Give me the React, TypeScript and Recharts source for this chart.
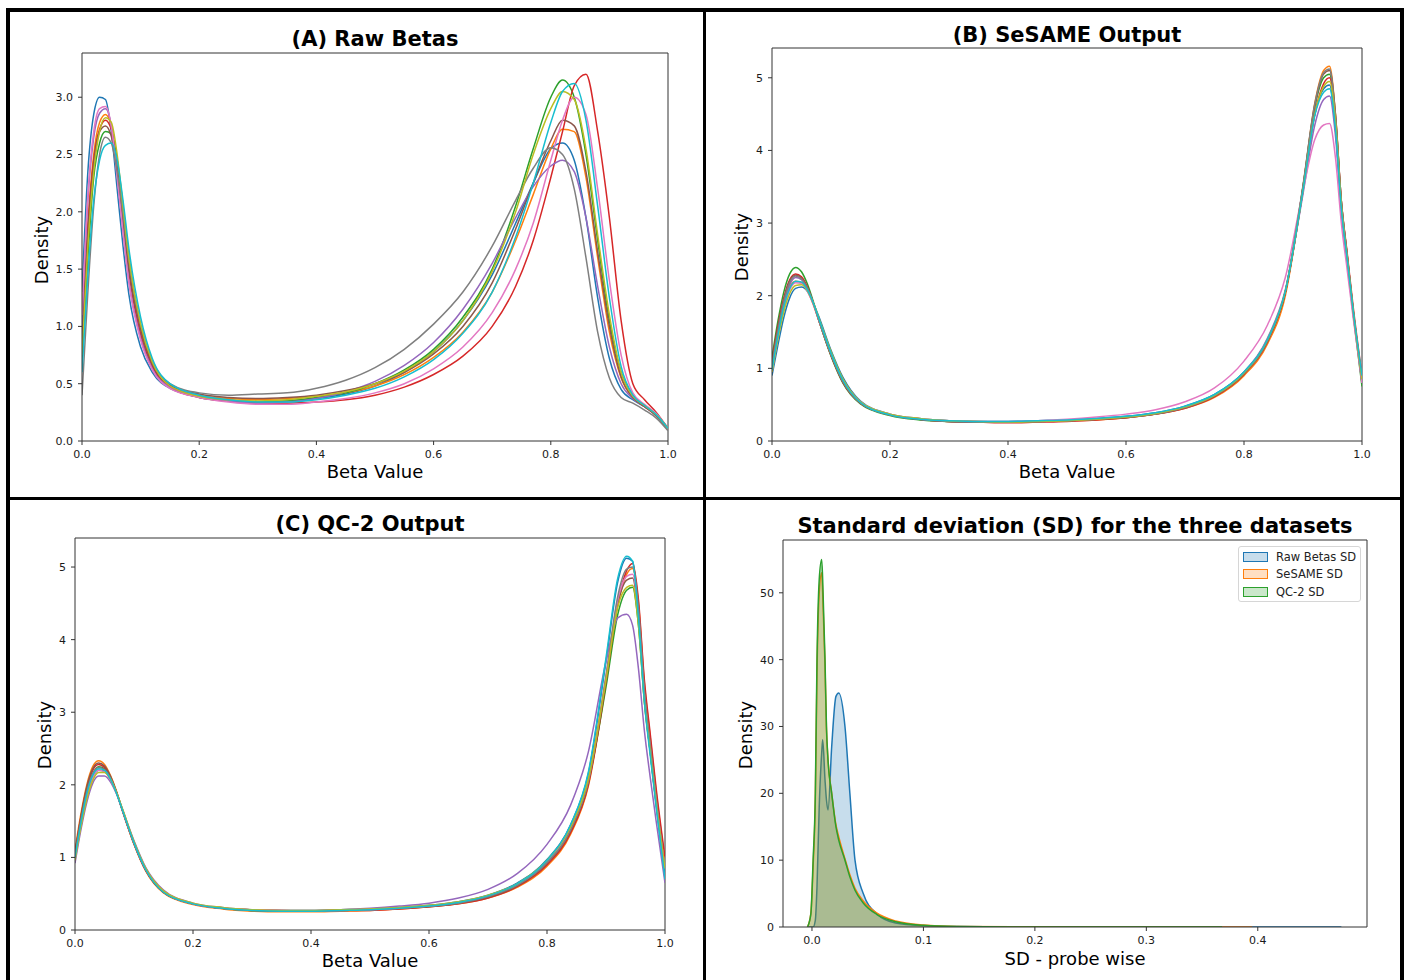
import React from 'react'
import { LineChart, Line, AreaChart, Area, XAxis, YAxis, ReferenceLine } from 'recharts'

// matplotlib tab10 cycle
const colors = ['#1f77b4', '#ff7f0e', '#2ca02c', '#d62728', '#9467bd', '#8c564b', '#e377c2', '#7f7f7f', '#bcbd22', '#17becf']

// (A) raw betas, density per sample
const gridA = [0, 0.01, 0.02, 0.03, 0.04, 0.05, 0.06, 0.07, 0.08, 0.1, 0.12, 0.15, 0.2, 0.25, 0.3, 0.35, 0.4, 0.45, 0.5, 0.55, 0.6, 0.65, 0.7, 0.74, 0.77, 0.8, 0.82, 0.84, 0.86, 0.88, 0.9, 0.92, 0.94, 0.96, 0.98, 1.0]
const rawBetas = [
  [1.3, 2.35, 2.85, 3.0, 2.98, 2.7, 2.2, 1.7, 1.28, 0.82, 0.6, 0.46, 0.39, 0.36, 0.34, 0.35, 0.37, 0.41, 0.48, 0.6, 0.78, 1.05, 1.45, 1.9, 2.25, 2.55, 2.6, 2.45, 1.95, 1.25, 0.72, 0.45, 0.36, 0.3, 0.22, 0.1],
  [0.9, 1.9, 2.5, 2.78, 2.85, 2.75, 2.4, 1.95, 1.5, 0.95, 0.66, 0.48, 0.4, 0.37, 0.36, 0.37, 0.39, 0.42, 0.48, 0.58, 0.73, 0.95, 1.3, 1.75, 2.15, 2.55, 2.72, 2.7, 2.3, 1.6, 0.95, 0.55, 0.38, 0.3, 0.22, 0.1],
  [0.7, 1.6, 2.3, 2.6, 2.7, 2.68, 2.45, 2.05, 1.6, 1.0, 0.68, 0.47, 0.38, 0.35, 0.34, 0.35, 0.38, 0.42, 0.5, 0.62, 0.8, 1.08, 1.5, 2.05, 2.55, 3.0, 3.15, 3.0, 2.5, 1.75, 1.05, 0.6, 0.4, 0.31, 0.23, 0.11],
  [0.9, 1.85, 2.45, 2.72, 2.8, 2.72, 2.38, 1.92, 1.48, 0.93, 0.65, 0.47, 0.38, 0.35, 0.33, 0.33, 0.34, 0.36, 0.4, 0.47, 0.58, 0.74, 1.0, 1.35, 1.75, 2.3, 2.7, 3.1, 3.2, 2.7, 1.95, 1.05, 0.5, 0.36, 0.25, 0.11],
  [1.0, 2.1, 2.65, 2.86, 2.9, 2.75, 2.32, 1.85, 1.4, 0.9, 0.63, 0.47, 0.39, 0.35, 0.33, 0.34, 0.37, 0.43, 0.52, 0.66, 0.86, 1.15, 1.55, 1.95, 2.22, 2.4, 2.45, 2.35, 1.95, 1.35, 0.82, 0.5, 0.37, 0.3, 0.22, 0.1],
  [0.8, 1.8, 2.42, 2.7, 2.75, 2.66, 2.35, 1.92, 1.5, 0.97, 0.67, 0.49, 0.41, 0.38, 0.37, 0.38, 0.4, 0.44, 0.5, 0.6, 0.76, 1.0, 1.38, 1.85, 2.25, 2.62, 2.8, 2.75, 2.35, 1.65, 1.0, 0.56, 0.38, 0.3, 0.22, 0.1],
  [1.1, 2.15, 2.7, 2.9, 2.92, 2.75, 2.3, 1.82, 1.38, 0.88, 0.62, 0.46, 0.38, 0.34, 0.32, 0.32, 0.34, 0.37, 0.42, 0.5, 0.63, 0.82, 1.12, 1.5, 1.9, 2.45, 2.8, 3.0, 2.85, 2.2, 1.4, 0.75, 0.42, 0.32, 0.24, 0.11],
  [0.4, 1.3, 2.05, 2.5, 2.65, 2.6, 2.35, 1.98, 1.58, 1.02, 0.7, 0.5, 0.42, 0.4, 0.41, 0.42, 0.46, 0.53, 0.64, 0.8, 1.02, 1.3, 1.7, 2.1, 2.38, 2.56, 2.5, 2.2, 1.6, 0.95, 0.55, 0.38, 0.33, 0.27, 0.2, 0.09],
  [0.75, 1.7, 2.35, 2.7, 2.82, 2.78, 2.5, 2.05, 1.6, 1.02, 0.69, 0.48, 0.39, 0.36, 0.35, 0.36, 0.39, 0.43, 0.5, 0.61, 0.78, 1.05, 1.48, 2.0, 2.5, 2.9, 3.05, 2.98, 2.55, 1.8, 1.1, 0.6, 0.39, 0.31, 0.23, 0.11],
  [0.6, 1.45, 2.1, 2.45, 2.58, 2.6, 2.45, 2.1, 1.68, 1.08, 0.72, 0.5, 0.4, 0.36, 0.34, 0.34, 0.36, 0.4, 0.46, 0.56, 0.71, 0.94, 1.3, 1.78, 2.25, 2.78, 3.05, 3.12, 2.8, 2.05, 1.25, 0.65, 0.4, 0.31, 0.23, 0.11],
]

// (B) SeSAME and (C) QC-2 share one grid
const gridBC = [0, 0.01, 0.02, 0.03, 0.04, 0.05, 0.06, 0.07, 0.08, 0.1, 0.12, 0.15, 0.2, 0.25, 0.3, 0.35, 0.4, 0.45, 0.5, 0.55, 0.6, 0.65, 0.7, 0.75, 0.8, 0.84, 0.87, 0.9, 0.92, 0.935, 0.945, 0.955, 0.965, 0.975, 0.985, 1.0]
const sesame = [
  [0.9, 1.32, 1.7, 1.97, 2.1, 2.12, 2.06, 1.9, 1.7, 1.25, 0.88, 0.55, 0.37, 0.31, 0.28, 0.27, 0.27, 0.28, 0.29, 0.31, 0.34, 0.39, 0.48, 0.64, 0.95, 1.4, 2.05, 3.45, 4.5, 4.85, 4.9, 4.3, 3.2, 2.5, 1.78, 0.85],
  [1.05, 1.5, 1.88, 2.12, 2.2, 2.18, 2.07, 1.88, 1.64, 1.18, 0.82, 0.52, 0.36, 0.3, 0.27, 0.26, 0.26, 0.27, 0.28, 0.29, 0.32, 0.37, 0.45, 0.6, 0.9, 1.34, 2.0, 3.5, 4.65, 5.1, 5.16, 4.5, 3.3, 2.55, 1.8, 0.8],
  [1.15, 1.65, 2.05, 2.3, 2.39, 2.33, 2.16, 1.92, 1.65, 1.17, 0.8, 0.51, 0.35, 0.29, 0.27, 0.26, 0.26, 0.27, 0.28, 0.3, 0.33, 0.38, 0.46, 0.62, 0.93, 1.38, 2.05, 3.5, 4.6, 5.0, 5.05, 4.4, 3.25, 2.5, 1.75, 0.75],
  [1.1, 1.58, 1.97, 2.22, 2.3, 2.26, 2.12, 1.9, 1.65, 1.18, 0.81, 0.52, 0.36, 0.3, 0.27, 0.26, 0.25, 0.26, 0.27, 0.29, 0.32, 0.37, 0.45, 0.61, 0.92, 1.37, 2.04, 3.45, 4.5, 4.92, 5.0, 4.45, 3.3, 2.58, 1.85, 0.9],
  [1.0, 1.5, 1.9, 2.15, 2.25, 2.22, 2.1, 1.9, 1.66, 1.2, 0.83, 0.53, 0.36, 0.3, 0.28, 0.27, 0.26, 0.27, 0.28, 0.3, 0.33, 0.38, 0.47, 0.63, 0.95, 1.42, 2.08, 3.4, 4.35, 4.7, 4.75, 4.2, 3.15, 2.45, 1.75, 0.8],
  [1.05, 1.55, 1.94, 2.2, 2.28, 2.24, 2.1, 1.9, 1.65, 1.19, 0.82, 0.52, 0.36, 0.3, 0.27, 0.26, 0.26, 0.27, 0.28, 0.3, 0.32, 0.37, 0.46, 0.62, 0.93, 1.38, 2.05, 3.5, 4.62, 5.05, 5.1, 4.5, 3.3, 2.55, 1.8, 0.85],
  [0.95, 1.42, 1.82, 2.08, 2.18, 2.17, 2.06, 1.88, 1.65, 1.2, 0.84, 0.54, 0.37, 0.31, 0.28, 0.27, 0.27, 0.28, 0.3, 0.33, 0.37, 0.43, 0.54, 0.73, 1.1, 1.6, 2.25, 3.45, 4.15, 4.35, 4.37, 3.9, 3.0, 2.35, 1.7, 0.8],
  [1.05, 1.52, 1.92, 2.18, 2.27, 2.23, 2.1, 1.9, 1.65, 1.19, 0.82, 0.52, 0.36, 0.3, 0.27, 0.26, 0.26, 0.27, 0.28, 0.3, 0.33, 0.37, 0.46, 0.62, 0.93, 1.38, 2.06, 3.52, 4.64, 5.07, 5.12, 4.48, 3.3, 2.55, 1.8, 0.85],
  [0.95, 1.4, 1.78, 2.03, 2.14, 2.15, 2.07, 1.9, 1.68, 1.23, 0.86, 0.54, 0.37, 0.31, 0.28, 0.27, 0.26, 0.27, 0.28, 0.3, 0.33, 0.38, 0.47, 0.63, 0.94, 1.4, 2.06, 3.45, 4.5, 4.88, 4.95, 4.4, 3.25, 2.52, 1.8, 0.85],
  [0.98, 1.45, 1.85, 2.1, 2.2, 2.19, 2.08, 1.9, 1.67, 1.21, 0.84, 0.53, 0.36, 0.3, 0.28, 0.27, 0.27, 0.28, 0.29, 0.31, 0.34, 0.39, 0.48, 0.64, 0.95, 1.4, 2.06, 3.45, 4.48, 4.8, 4.85, 4.3, 3.2, 2.5, 1.8, 0.9],
]
const qc2 = [
  [1.0, 1.46, 1.85, 2.1, 2.2, 2.19, 2.08, 1.9, 1.67, 1.21, 0.84, 0.53, 0.36, 0.3, 0.28, 0.27, 0.27, 0.28, 0.29, 0.31, 0.34, 0.39, 0.48, 0.65, 0.97, 1.45, 2.15, 3.7, 4.8, 5.12, 5.08, 4.35, 3.2, 2.45, 1.72, 0.75],
  [1.1, 1.6, 2.0, 2.25, 2.33, 2.28, 2.13, 1.92, 1.66, 1.18, 0.81, 0.51, 0.35, 0.29, 0.26, 0.25, 0.25, 0.26, 0.27, 0.29, 0.32, 0.36, 0.44, 0.59, 0.88, 1.32, 1.98, 3.4, 4.48, 4.9, 4.98, 4.5, 3.4, 2.65, 1.9, 0.95],
  [1.02, 1.5, 1.9, 2.15, 2.25, 2.22, 2.1, 1.9, 1.66, 1.2, 0.83, 0.52, 0.36, 0.3, 0.27, 0.26, 0.26, 0.27, 0.28, 0.3, 0.33, 0.38, 0.46, 0.62, 0.93, 1.38, 2.04, 3.35, 4.35, 4.68, 4.72, 4.2, 3.15, 2.45, 1.75, 0.85],
  [1.05, 1.55, 1.95, 2.2, 2.28, 2.24, 2.1, 1.9, 1.65, 1.19, 0.82, 0.52, 0.36, 0.3, 0.28, 0.27, 0.26, 0.27, 0.27, 0.29, 0.32, 0.36, 0.44, 0.6, 0.9, 1.34, 2.0, 3.42, 4.5, 4.95, 5.05, 4.55, 3.45, 2.7, 1.95, 1.0],
  [0.92, 1.38, 1.76, 2.02, 2.12, 2.12, 2.04, 1.88, 1.67, 1.23, 0.86, 0.55, 0.37, 0.31, 0.28, 0.27, 0.27, 0.28, 0.3, 0.33, 0.37, 0.44, 0.56, 0.78, 1.18, 1.72, 2.45, 3.7, 4.3, 4.35, 4.2, 3.6, 2.75, 2.1, 1.5, 0.65],
  [1.05, 1.56, 1.97, 2.22, 2.3, 2.26, 2.12, 1.91, 1.66, 1.19, 0.82, 0.52, 0.36, 0.3, 0.27, 0.26, 0.26, 0.27, 0.28, 0.3, 0.32, 0.37, 0.45, 0.61, 0.92, 1.37, 2.03, 3.45, 4.5, 4.82, 4.85, 4.3, 3.25, 2.52, 1.8, 0.85],
  [0.98, 1.45, 1.85, 2.1, 2.2, 2.18, 2.07, 1.89, 1.66, 1.2, 0.83, 0.53, 0.36, 0.3, 0.28, 0.27, 0.26, 0.27, 0.28, 0.3, 0.33, 0.38, 0.47, 0.63, 0.94, 1.4, 2.06, 3.5, 4.55, 4.87, 4.9, 4.35, 3.25, 2.5, 1.78, 0.85],
  [1.0, 1.5, 1.9, 2.15, 2.24, 2.21, 2.09, 1.9, 1.66, 1.2, 0.83, 0.52, 0.36, 0.3, 0.27, 0.26, 0.26, 0.27, 0.28, 0.3, 0.33, 0.37, 0.46, 0.62, 0.93, 1.38, 2.05, 3.5, 4.6, 4.97, 5.0, 4.45, 3.3, 2.55, 1.8, 0.85],
  [0.96, 1.42, 1.8, 2.06, 2.17, 2.17, 2.08, 1.9, 1.68, 1.22, 0.85, 0.54, 0.37, 0.31, 0.28, 0.27, 0.27, 0.28, 0.29, 0.31, 0.34, 0.39, 0.48, 0.64, 0.96, 1.42, 2.08, 3.45, 4.45, 4.72, 4.75, 4.2, 3.15, 2.45, 1.75, 0.85],
  [1.0, 1.48, 1.88, 2.13, 2.22, 2.2, 2.08, 1.89, 1.66, 1.2, 0.83, 0.52, 0.36, 0.3, 0.27, 0.26, 0.26, 0.27, 0.28, 0.3, 0.33, 0.38, 0.47, 0.64, 0.96, 1.45, 2.17, 3.75, 4.85, 5.15, 5.08, 4.3, 3.15, 2.4, 1.7, 0.7],
]

// (D) probe-wise SD densities
const sdGrid = [-0.004, -0.001, 0.001, 0.003, 0.0045, 0.0065, 0.0087, 0.0096, 0.0117, 0.013, 0.0144, 0.0177, 0.0215, 0.024, 0.0296, 0.034, 0.0386, 0.046, 0.058, 0.075, 0.1, 0.13, 0.18, 0.25, 0.368, 0.395, 0.475]
const sdRaw = [0, 0, 0, 1, 6, 18, 26, 28, 22, 19, 17.5, 27, 34.5, 35, 30, 20, 10, 5, 2, 0.6, 0.2, 0.06, 0.01, 0, 0, 0, 0]
const sdSesame = [0, 2, 9, 19, 38, 50, 53, 50, 39, 29.5, 25, 20, 15.3, 13.5, 10.2, 7.8, 5.8, 3.9, 2.1, 0.9, 0.3, 0.08, 0.02, 0, 0, 0, null]
const sdQc2 = [0, 2, 10, 20, 40, 52, 55, 52, 40, 30, 25, 20, 15, 13, 10, 7.5, 5.5, 3.6, 1.9, 0.8, 0.25, 0.06, 0.01, 0, 0, null, null]
const sdNames = ['Raw Betas SD', 'SeSAME SD', 'QC-2 SD']

const betaTicks = [0, 0.2, 0.4, 0.6, 0.8, 1.0]
const rawTicks = [0, 0.5, 1.0, 1.5, 2.0, 2.5, 3.0]
const densTicks = [0, 1, 2, 3, 4, 5]
const sdXTicks = [0, 0.1, 0.2, 0.3, 0.4]
const sdYTicks = [0, 10, 20, 30, 40, 50]

function toRows(grid: number[], series: (number | null)[][]) {
  return grid.map((x, i) => {
    const r: any = { x }
    series.forEach((s, j) => { r['s' + j] = s[i] })
    return r
  })
}

const tick = { fontSize: 11, fill: '#1a1a1a' }
const axisLine = { stroke: '#333', strokeWidth: 1 }
const YW = 60
const XH = 50
const RM = 20

function Txt({ x, y, size, bold, rotate, children }: any) {
  return (
    <div style={{
      position: 'absolute', left: x, top: y, fontSize: size, lineHeight: 1,
      fontWeight: bold ? 'bold' : 'normal', whiteSpace: 'nowrap', color: '#000',
      transform: `translate(-50%, -50%)${rotate ? ' rotate(-90deg)' : ''}`,
    }}>{children}</div>
  )
}

function DensityPanel({ plot, rows, n, yMax, yTicks, yFmt }: any) {
  return (
    <div style={{ position: 'absolute', left: plot.x - YW, top: plot.y - 2 }}>
      <LineChart width={YW + plot.w + RM} height={plot.h + XH + 2} data={rows}
        margin={{ top: 2, right: RM, bottom: 0, left: 0 }}>
        <XAxis dataKey="x" type="number" domain={[0, 1]} allowDataOverflow ticks={betaTicks}
          tickFormatter={(v: number) => v.toFixed(1)} height={XH} tickSize={4} tickMargin={5}
          tick={tick} axisLine={axisLine} tickLine={axisLine} />
        <YAxis type="number" domain={[0, yMax]} allowDataOverflow ticks={yTicks} tickFormatter={yFmt}
          width={YW} tickSize={4} tickMargin={5} tick={tick} axisLine={axisLine} tickLine={axisLine} />
        <ReferenceLine y={yMax} stroke="#333" strokeWidth={1} />
        <ReferenceLine x={1} stroke="#333" strokeWidth={1} />
        {Array.from({ length: n }, (_, j) => (
          <Line key={j} dataKey={'s' + j} type="monotone" stroke={colors[j]} strokeWidth={1.5}
            dot={false} isAnimationActive={false} />
        ))}
      </LineChart>
    </div>
  )
}

function SdPanel({ plot }: any) {
  const rows = toRows(sdGrid, [sdRaw, sdSesame, sdQc2])
  return (
    <div style={{ position: 'absolute', left: plot.x - YW, top: plot.y - 2 }}>
      <AreaChart width={YW + plot.w + RM} height={plot.h + XH + 2} data={rows}
        margin={{ top: 2, right: RM, bottom: 0, left: 0 }}>
        <XAxis dataKey="x" type="number" domain={[-0.026, 0.498]} allowDataOverflow ticks={sdXTicks}
          tickFormatter={(v: number) => v.toFixed(1)} height={XH} tickSize={4} tickMargin={5}
          tick={tick} axisLine={axisLine} tickLine={axisLine} />
        <YAxis type="number" domain={[0, 57.9]} allowDataOverflow ticks={sdYTicks}
          width={YW} tickSize={4} tickMargin={5} tick={tick} axisLine={axisLine} tickLine={axisLine} />
        <ReferenceLine y={57.9} stroke="#333" strokeWidth={1} />
        <ReferenceLine x={0.498} stroke="#333" strokeWidth={1} />
        {[0, 1, 2].map((j) => (
          <Area key={j} dataKey={'s' + j} name={sdNames[j]} type="monotone" stroke={colors[j]}
            strokeWidth={1.5} fill={colors[j]} fillOpacity={0.25} isAnimationActive={false} />
        ))}
      </AreaChart>
    </div>
  )
}

function SdLegend() {
  return (
    <div style={{
      position: 'absolute', left: 1238, top: 546, width: 123, height: 56, boxSizing: 'border-box',
      border: '1px solid #d6d6d6', borderRadius: 3, background: 'rgba(255,255,255,0.8)',
    }}>
      {sdNames.map((name, j) => (
        <div key={j} style={{ position: 'absolute', left: 4, top: 3.5 + j * 17.7, height: 12, display: 'flex', alignItems: 'center' }}>
          <span style={{
            display: 'inline-block', width: 23, height: 8, border: `1px solid ${colors[j]}`,
            background: colors[j] + '40', marginRight: 8,
          }} />
          <span style={{ fontSize: 11.5, color: '#222' }}>{name}</span>
        </div>
      ))}
    </div>
  )
}

export default function App() {
  const plotA = { x: 82, y: 53, w: 586, h: 388 }
  const plotB = { x: 772, y: 48, w: 590, h: 393 }
  const plotC = { x: 75, y: 538, w: 590, h: 392 }
  const plotD = { x: 783, y: 540, w: 584, h: 387 }
  const bar = { position: 'absolute' as const, background: '#000' }
  return (
    <div style={{
      position: 'absolute', left: 0, top: 0, width: 1406, height: 980, background: '#fff',
      overflow: 'hidden', fontFamily: '"DejaVu Sans", sans-serif',
    }}>
      <DensityPanel plot={plotA} rows={toRows(gridA, rawBetas)} n={rawBetas.length} yMax={3.386}
        yTicks={rawTicks} yFmt={(v: number) => v.toFixed(1)} />
      <DensityPanel plot={plotB} rows={toRows(gridBC, sesame)} n={sesame.length} yMax={5.41}
        yTicks={densTicks} yFmt={(v: number) => String(v)} />
      <DensityPanel plot={plotC} rows={toRows(gridBC, qc2)} n={qc2.length} yMax={5.4}
        yTicks={densTicks} yFmt={(v: number) => String(v)} />
      <SdPanel plot={plotD} />
      <SdLegend />

      <Txt x={375} y={39} size={21} bold>(A) Raw Betas</Txt>
      <Txt x={1067} y={35} size={21} bold>(B) SeSAME Output</Txt>
      <Txt x={370} y={524} size={21} bold>(C) QC-2 Output</Txt>
      <Txt x={1075} y={526} size={21} bold>Standard deviation (SD) for the three datasets</Txt>

      <Txt x={375} y={472} size={18}>Beta Value</Txt>
      <Txt x={1067} y={472} size={18}>Beta Value</Txt>
      <Txt x={370} y={961} size={18}>Beta Value</Txt>
      <Txt x={1075} y={959} size={18}>SD - probe wise</Txt>
      <Txt x={42} y={250} size={18} rotate>Density</Txt>
      <Txt x={742} y={247} size={18} rotate>Density</Txt>
      <Txt x={45} y={735} size={18} rotate>Density</Txt>
      <Txt x={746} y={735} size={18} rotate>Density</Txt>

      <div style={{ ...bar, left: 6, top: 8, width: 1398, height: 4 }} />
      <div style={{ ...bar, left: 6, top: 8, width: 4, height: 972 }} />
      <div style={{ ...bar, left: 1400, top: 8, width: 4, height: 972 }} />
      <div style={{ ...bar, left: 703, top: 8, width: 3, height: 972 }} />
      <div style={{ ...bar, left: 6, top: 497, width: 1398, height: 3 }} />
    </div>
  )
}
